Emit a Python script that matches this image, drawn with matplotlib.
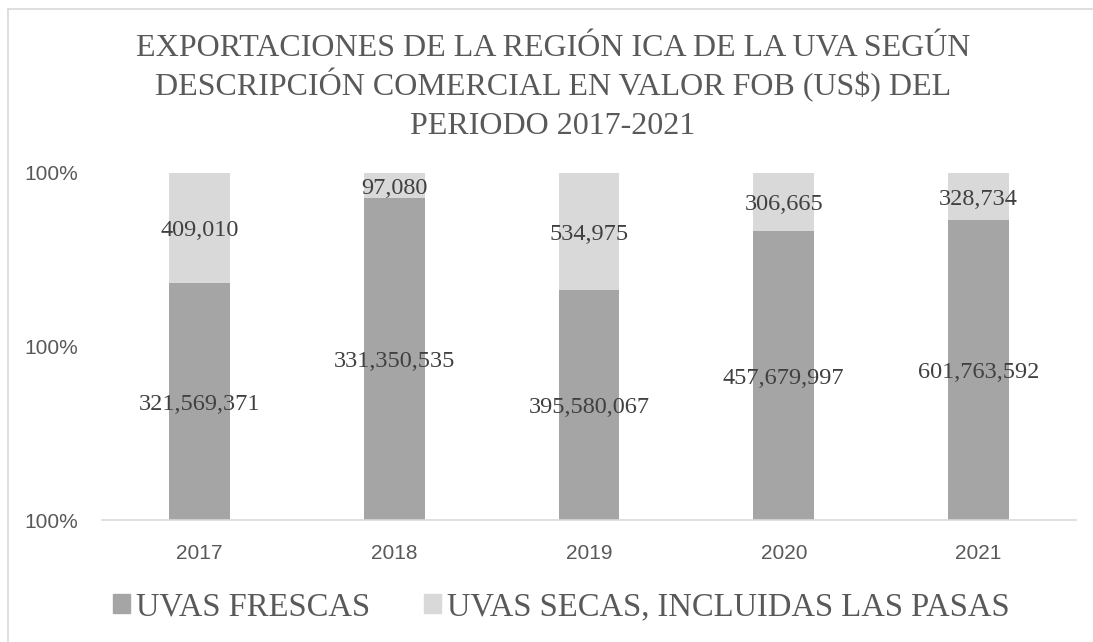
import matplotlib
matplotlib.use('Agg')
import matplotlib.pyplot as plt
from matplotlib.patches import Patch
from matplotlib.lines import Line2D
from matplotlib.ticker import FuncFormatter
import numpy as np

# datos
years = ['2017', '2018', '2019', '2020', '2021']
frescas = [321569371, 331350535, 395580067, 457679997, 601763592]
secas = [409010, 97080, 534975, 306665, 328734]
series_names = ['UVAS FRESCAS', 'UVAS SECAS, INCLUIDAS LAS PASAS']
title_lines = ['EXPORTACIONES DE LA REGIÓN ICA DE LA UVA SEGÚN',
               'DESCRIPCIÓN COMERCIAL EN VALOR FOB (US$) DEL',
               'PERIODO 2017-2021']

c_fresh = '#a5a5a5'
c_secas = '#d9d9d9'
serif = 'Liberation Serif'
W, H = 1093, 642

# 100% apilado
total = np.array(frescas) + np.array(secas)
p_fresh = np.array(frescas) / total
p_secas = np.array(secas) / total

fig = plt.figure(figsize=(W / 100, H / 100), dpi=100)
ax = fig.add_axes([102 / W, 1 - 520 / H, 974 / W, 347 / H])

x = np.arange(len(years))
w = 0.313
ax.bar(x, p_fresh, w, color=c_fresh)
ax.bar(x, p_secas, w, bottom=p_fresh, color=c_secas)

ymin, ymax = 0.996, 1.0
ax.set_ylim(ymin, ymax)
ax.set_xlim(-0.5, len(years) - 0.5)
ax.set_yticks([0.996, 0.998, 1.0])
ax.yaxis.set_major_formatter(FuncFormatter(lambda v, pos: f'{v:.0%}'))

# etiquetas de datos en el centro de la parte visible
for i in range(len(years)):
    y1 = (ymin + p_fresh[i]) / 2
    y2 = (p_fresh[i] + ymax) / 2
    ax.text(x[i], y1, f'{frescas[i]:,}', ha='center', va='center_baseline',
            fontsize=17.5, family=serif, color='#404040')
    ax.text(x[i], y2, f'{secas[i]:,}', ha='center', va='center_baseline',
            fontsize=17.5, family=serif, color='#404040')

ax.set_xticks(x)
ax.set_xticklabels(years)
for s in ['top', 'right', 'left']:
    ax.spines[s].set_visible(False)
ax.spines['bottom'].set_color('#d9d9d9')
ax.spines['bottom'].set_linewidth(1.2)
ax.tick_params(axis='both', length=0, labelsize=15, labelcolor='#595959')
ax.tick_params(axis='x', pad=17)
ax.tick_params(axis='y', pad=17)
for lb in ax.get_xticklabels() + ax.get_yticklabels():
    lb.set_family('Liberation Sans')

# titulo linea por linea
for k, line in enumerate(title_lines):
    fig.text(0.506, 1 - (56 + 39 * k) / H, line, ha='center', va='baseline',
             fontsize=23, family=serif, color='#595959')

handles = [Patch(color=c_fresh), Patch(color=c_secas)]
fig.legend(handles, series_names, loc='center', bbox_to_anchor=(561.5 / W, 1 - 607 / H),
           ncol=2, frameon=False, prop={'family': serif, 'size': 23.5},
           labelcolor='#595959', handlelength=0.52, handleheight=0.52,
           handletextpad=0.18, columnspacing=1.65, borderpad=0, borderaxespad=0)

# borde del grafico
fig.add_artist(Line2D([8 / W, 8 / W], [0, 1 - 9 / H], color='#d9d9d9', lw=1.2))
fig.add_artist(Line2D([8 / W, 1], [1 - 9 / H, 1 - 9 / H], color='#d9d9d9', lw=1.2))

fig.savefig('out.png', dpi=100)
